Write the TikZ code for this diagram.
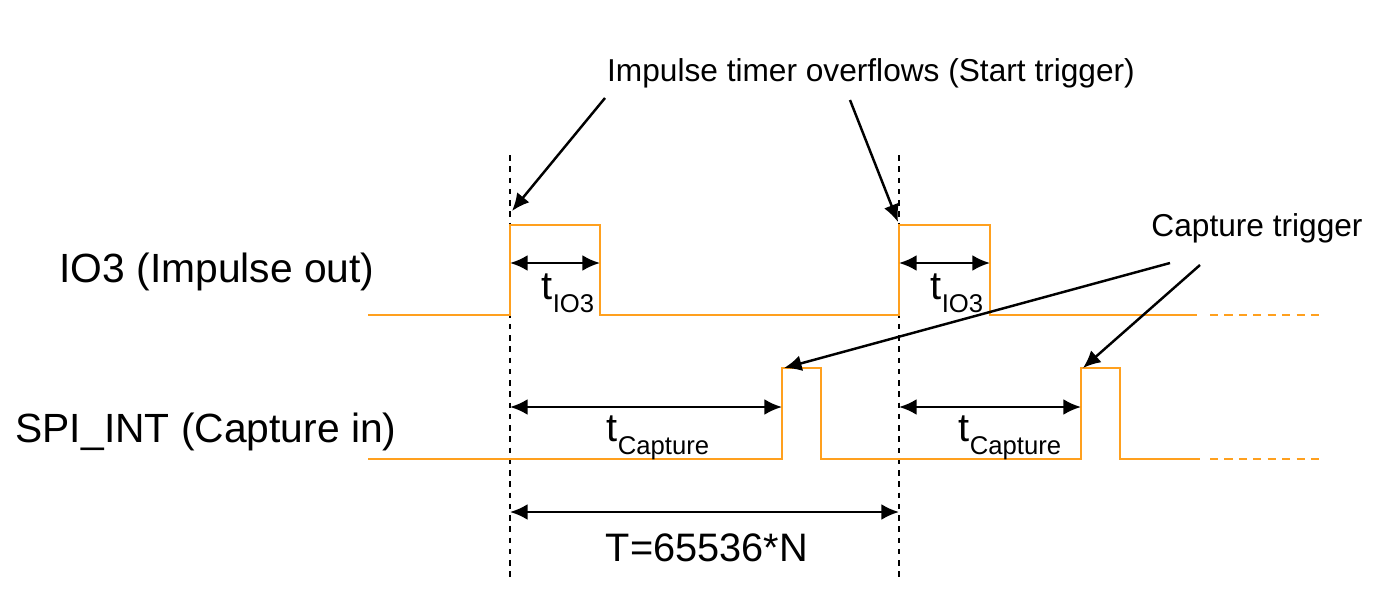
\documentclass[tikz,border=0pt]{standalone}
\usepackage{fontspec}
\setmainfont{Liberation Sans}
\usepackage{xcolor}
\usetikzlibrary{arrows.meta, positioning, calc}
\definecolor{sigorange}{RGB}{255,160,30}
\newcommand{\subtxt}[1]{\raisebox{-0.6ex}{\fontsize{7.3}{9}\selectfont #1}}

\begin{document}
\begin{tikzpicture}[
    x=0.01cm, y=-0.01cm,
    wave/.style={draw=sigorange, line width=0.6pt},
    wavecont/.style={draw=sigorange, line width=0.6pt, dash pattern=on 2.3pt off 1.8pt},
    marker/.style={draw, line width=0.5pt, dash pattern=on 1.6pt off 1.6pt},
    dim/.style={{Latex[length=5pt,width=4.5pt]}-{Latex[length=5pt,width=4.5pt]}, line width=0.7pt},
    pointer/.style={-{Latex[length=5pt,width=4.5pt]}, line width=0.7pt},
    signame/.style={font=\fontsize{11.6}{14}\selectfont, inner sep=0pt},
    note/.style={font=\fontsize{9}{11}\selectfont, inner sep=0pt},
    value/.style={font=\fontsize{11.3}{14}\selectfont, inner sep=0pt}
]
\useasboundingbox (0,0) rectangle (1375,594);

% time markers
\draw[marker] (510,155) -- (510,578);
\draw[marker] (899,155) -- (899,578);

% signal names
\node[signame] (io3) at (217,272) {IO3 (Impulse out)};
\node[signame] (spi) at (206,432) {SPI\_INT (Capture in)};

% IO3 waveform
\draw[wave] (368,315) -- (510,315) |- (600,225) |- (899,315) |- (990,225) |- (1197,315);
\draw[wavecont] (1210,315) -- (1325,315);

% SPI_INT waveform
\draw[wave] (368,459) -- (782,459) |- (821,368) |- (1081,459) |- (1120,368) |- (1200,459);
\draw[wavecont] (1210,459) -- (1325,459);

% pulse widths
\coordinate (a1) at (510,263);
\coordinate (b1) at (600,263);
\coordinate (a2) at (899,263);
\coordinate (b2) at (990,263);
\draw[dim] (a1) -- (b1);
\draw[dim] (a2) -- (b2);
\node[value] (tio1) at (568,293) {t\subtxt{IO3}};
\node[value] (tio2) at (957,293) {t\subtxt{IO3}};

% capture delays
\coordinate (c1) at (510,407);
\coordinate (d1) at (782,407);
\coordinate (c2) at (899,407);
\coordinate (d2) at (1081,407);
\draw[dim] (c1) -- (d1);
\draw[dim] (c2) -- (d2);
\node[value] (tc1) at (658,438) {t\subtxt{Capture}};
\node[value] (tc2) at (1010,438) {t\subtxt{Capture}};

% period
\coordinate (p1) at (510,512);
\coordinate (p2) at (899,512);
\draw[dim] (p1) -- (p2);
\node[value] (period) at (707,548) {T=65536*N};

% start trigger
\node[note] (start) at (871,73) {Impulse timer overflows (Start trigger)};
\coordinate (s1) at (605,98);
\coordinate (s2) at (850,100);
\coordinate (e1) at (512,211);
\coordinate (e2) at (898,222);
\draw[pointer] (s1) -- (e1);
\draw[pointer] (s2) -- (e2);

% capture trigger
\node[note] (capture) at (1257,228) {Capture trigger};
\coordinate (k1) at (1170,263);
\coordinate (k2) at (1200,265);
\coordinate (f1) at (784,368);
\coordinate (f2) at (1083,368);
\draw[pointer] (k1) -- (f1);
\draw[pointer] (k2) -- (f2);

\end{tikzpicture}
\end{document}
